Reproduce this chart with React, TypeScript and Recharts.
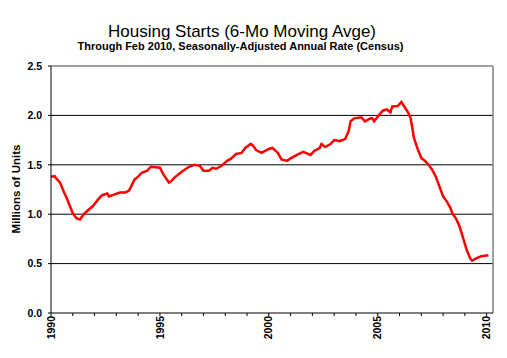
import { LineChart, Line, XAxis, YAxis, ReferenceLine } from 'recharts'

// months since Jan 1990
const months = [
    0, 2, 3, 5, 7, 9, 10, 12, 14, 16, 18, 21, 23, 26, 28, 31, 32, 35, 38, 41,
    43, 46, 48, 50, 53, 55, 60, 62, 65, 66, 68, 72, 76, 79, 82, 84, 87, 89, 91, 94,
    97, 99, 102, 105, 107, 110, 111, 113, 116, 120, 122, 125, 127, 130, 132, 136, 139, 143, 145, 148,
    149, 151, 154, 156, 159, 162, 164, 165, 167, 171, 173, 176, 177, 178, 181, 183, 185, 187, 188, 191,
    193, 195, 197, 198, 199, 200, 202, 204, 206, 208, 210, 212, 214, 216, 218, 220, 221, 223, 225, 227,
    229, 231, 232, 234, 237, 241,
]

// housing starts, 6-mo moving average, millions of units (SAAR)
const starts = [
    1.38, 1.385, 1.36, 1.32, 1.23, 1.15, 1.1, 1.01, 0.96, 0.946, 1.0, 1.05, 1.08, 1.15, 1.19, 1.21, 1.18, 1.2, 1.22, 1.22,
    1.24, 1.35, 1.38, 1.42, 1.44, 1.48, 1.47, 1.4, 1.32, 1.33, 1.37, 1.43, 1.48, 1.5, 1.49, 1.44, 1.44, 1.47, 1.46, 1.49,
    1.54, 1.56, 1.61, 1.62, 1.67, 1.71, 1.7, 1.65, 1.62, 1.66, 1.67, 1.62, 1.555, 1.54, 1.565, 1.605, 1.63, 1.6, 1.64, 1.67,
    1.71, 1.68, 1.71, 1.75, 1.74, 1.76, 1.84, 1.94, 1.97, 1.98, 1.94, 1.97, 1.97, 1.94, 2.01, 2.05, 2.06, 2.03, 2.09, 2.095,
    2.135, 2.08, 2.02, 1.98, 1.88, 1.77, 1.66, 1.57, 1.54, 1.5, 1.45, 1.38, 1.28, 1.18, 1.13, 1.065, 1.01, 0.96, 0.88, 0.76,
    0.64, 0.55, 0.53, 0.55, 0.575, 0.585,
]

const firstYear = 1990
const labelledYears = [1990, 1995, 2000, 2005, 2010]
const xTicks = Array.from({ length: 21 }, (_, i) => i * 12)
const xMax = 243.5
const yTicks = [0, 0.5, 1.0, 1.5, 2.0, 2.5]
const gridValues = [0.5, 1.0, 1.5, 2.0]

const data = months.map((m, i) => ({ m, value: starts[i] }))

const FONT = '"Liberation Sans", Arial, sans-serif'

function YearTick(props: any) {
    const { x, y, payload } = props
    const year = firstYear + payload.value / 12
    if (!labelledYears.includes(year)) return null
    return (
        <text
            x={x}
            y={y}
            transform={`rotate(-90 ${x} ${y})`}
            textAnchor="end"
            dy="0.35em"
            fontFamily={FONT}
            fontSize={10.5}
            fontWeight="bold"
            fill="#000"
        >
            {year}
        </text>
    )
}

export default function App() {
    return (
        <div style={{ position: 'relative', width: 507, height: 358, background: '#fff', fontFamily: FONT }}>
            <style>{'body{margin:0}'}</style>
            <div style={{ position: 'absolute', left: 0, top: 22.5, width: 484, textAlign: 'center', fontSize: 17, lineHeight: '17px', color: '#000' }}>
                Housing Starts (6-Mo Moving Avge)
            </div>
            <div style={{ position: 'absolute', left: 0, top: 41, width: 481, textAlign: 'center', fontSize: 11, lineHeight: '11px', fontWeight: 'bold', color: '#000' }}>
                Through Feb 2010, Seasonally-Adjusted Annual Rate (Census)
            </div>
            <div
                style={{
                    position: 'absolute',
                    left: 16,
                    top: 189,
                    transform: 'translate(-50%, -50%) rotate(-90deg)',
                    whiteSpace: 'nowrap',
                    fontSize: 11.5,
                    fontWeight: 'bold',
                    color: '#000',
                }}
            >
                Millions of Units
            </div>
            <LineChart width={507} height={358} data={data} margin={{ top: 66, right: 14, left: 0, bottom: 0 }}>
                <XAxis
                    dataKey="m"
                    type="number"
                    domain={[0, xMax]}
                    ticks={xTicks}
                    interval={0}
                    height={45}
                    tick={<YearTick />}
                    tickSize={3}
                    tickMargin={0}
                    axisLine={{ stroke: '#000' }}
                    tickLine={{ stroke: '#000' }}
                />
                <YAxis
                    type="number"
                    domain={[0, 2.5]}
                    ticks={yTicks}
                    width={51}
                    tickFormatter={(v: number) => v.toFixed(1)}
                    tick={{ fill: '#000', fontSize: 10.5, fontWeight: 'bold', fontFamily: FONT }}
                    tickSize={3}
                    tickMargin={6}
                    axisLine={{ stroke: '#000' }}
                    tickLine={{ stroke: '#000' }}
                />
                {gridValues.map((v) => (
                    <ReferenceLine key={v} y={v} stroke="#000" strokeWidth={1} />
                ))}
                <ReferenceLine y={2.5} stroke="#808080" strokeWidth={1.5} />
                <ReferenceLine x={xMax} stroke="#808080" strokeWidth={1.5} />
                <Line
                    type="linear"
                    dataKey="value"
                    stroke="#ff0000"
                    strokeWidth={2.5}
                    dot={false}
                    isAnimationActive={false}
                />
            </LineChart>
        </div>
    )
}
